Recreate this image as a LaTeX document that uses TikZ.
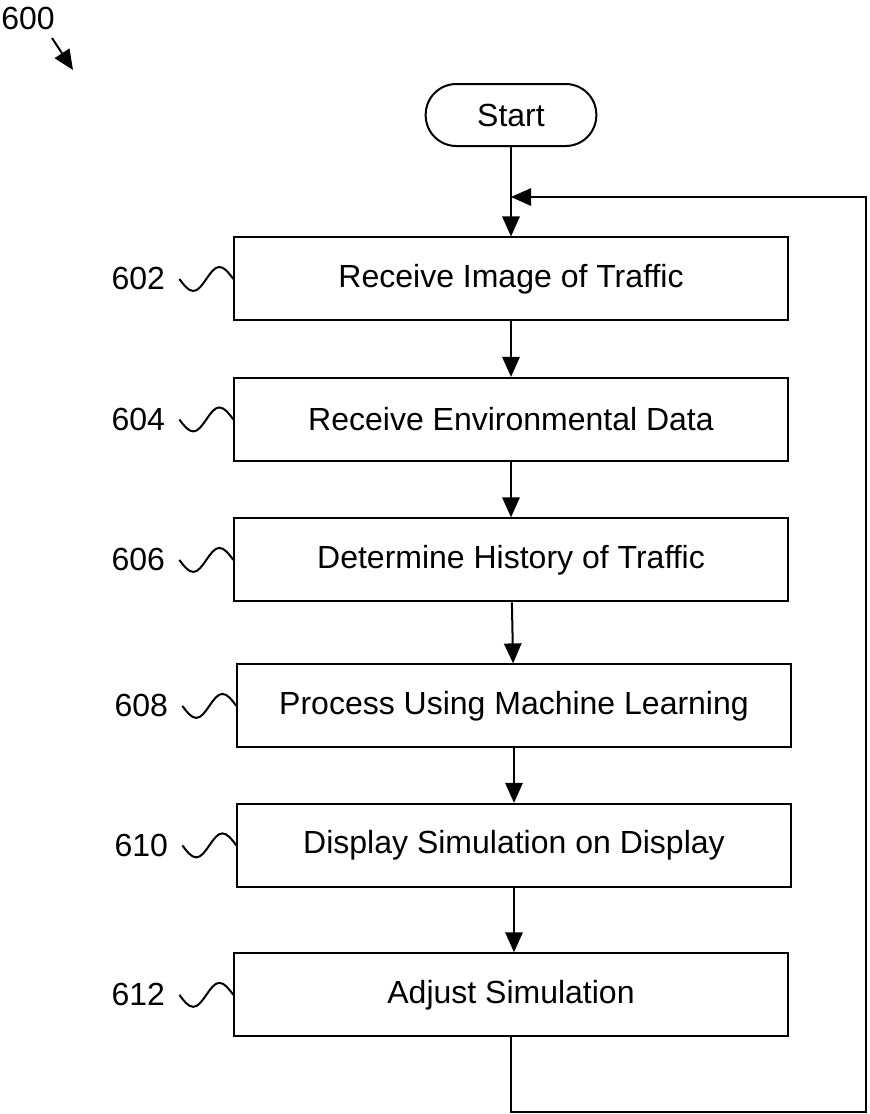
\documentclass[tikz,border=0pt]{standalone}
\usepackage{fontspec}
\setmainfont{Liberation Sans}
\usepackage{tikz}
\usetikzlibrary{positioning,arrows.meta}

\begin{document}
\begin{tikzpicture}[
  x=0.75pt, y=-0.75pt,
  fstage/.style={draw, line width=1.5pt, minimum width=415pt, minimum height=62.25pt, inner sep=0pt, font=\fontsize{24}{28}\selectfont},
  fterm/.style={draw, line width=1.5pt, rounded corners=23pt, minimum width=128pt, minimum height=46.5pt, inner sep=0pt, font=\fontsize{24}{28}\selectfont},
  flabel/.style={font=\fontsize{24}{28}\selectfont, inner sep=0pt},
  farrow/.style={-{Triangle[length=15pt,width=13pt]}, line width=1.5pt},
  fsquig/.style={line width=1.5pt},
]
\useasboundingbox (0,0) rectangle (869,1114);
\node[fterm] (start) at (511,115) {Start};
\node[fstage, below=67.1pt of start] (b602) {Receive Image of Traffic};
\node[fstage, below=41.6pt of b602] (b604) {Receive Environmental Data};
\node[fstage, below=41.6pt of b604] (b606) {Determine History of Traffic};
\node[fstage, below=45.75pt of b606, xshift=2.25pt] (b608) {Process Using Machine Learning};
\node[fstage, below=40.85pt of b608] (b610) {Display Simulation on Display};
\node[fstage, below=48.35pt of b610, xshift=-2.25pt] (b612) {Adjust Simulation};
% step arrows
\draw[farrow] (start) -- (b602);
\draw[farrow] (b602) -- (b604);
\draw[farrow] (b604) -- (b606);
\draw[farrow] (b606) -- (b608);
\draw[farrow] (b608) -- (b610);
\draw[farrow] (b610) -- (b610 |- b612.north);
% loop back
\coordinate (fbjoin) at (511,197);
\coordinate (fbturn) at (866,1112);
\draw[farrow] (b612.south) |- (fbturn) |- (fbjoin);
% reference numerals
\draw[fsquig] (b602.west) sin ++(-14,-12) cos ++(-13,12) sin ++(-13,12) cos ++(-14,-12) node[flabel, left=10pt] (l602) {602};
\draw[fsquig] (b604.west) sin ++(-14,-12) cos ++(-13,12) sin ++(-13,12) cos ++(-14,-12) node[flabel, left=10pt] (l604) {604};
\draw[fsquig] (b606.west) sin ++(-14,-12) cos ++(-13,12) sin ++(-13,12) cos ++(-14,-12) node[flabel, left=10pt] (l606) {606};
\draw[fsquig] (b608.west) sin ++(-14,-12) cos ++(-13,12) sin ++(-13,12) cos ++(-14,-12) node[flabel, left=10pt] (l608) {608};
\draw[fsquig] (b610.west) sin ++(-14,-12) cos ++(-13,12) sin ++(-13,12) cos ++(-14,-12) node[flabel, left=10pt] (l610) {610};
\draw[fsquig] (b612.west) sin ++(-14,-12) cos ++(-13,12) sin ++(-13,12) cos ++(-14,-12) node[flabel, left=10pt] (l612) {612};
\node[flabel] (l600) at (28,18) {600};
\coordinate (l600tip) at (73,70);
\draw[farrow] (52,38) -- (l600tip);
\end{tikzpicture}
\end{document}
